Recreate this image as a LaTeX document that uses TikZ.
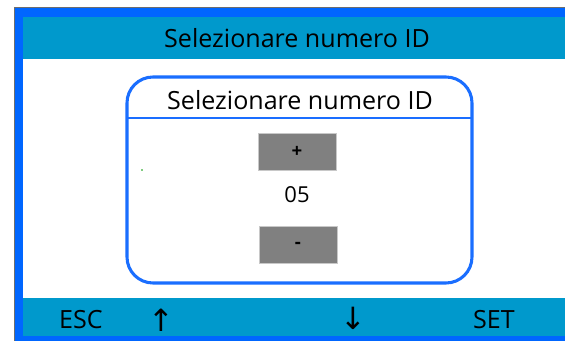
\documentclass[tikz,border=0pt]{standalone}
\usepackage{fontspec}
\setmainfont{Open Sans}
\newfontfamily\symfont{DejaVu Sans}
\definecolor{barteal}{RGB}{0,153,204}
\definecolor{frameblue}{RGB}{0,102,255}
\definecolor{dlgblue}{RGB}{26,110,255}
\definecolor{btngray}{RGB}{128,128,128}
\definecolor{btnedge}{RGB}{200,200,200}
\definecolor{edgegray}{RGB}{110,110,110}
\tikzset{
  bartext/.style={font=\fontsize{18.8}{22}\selectfont, text=black, inner sep=0pt},
  arrowtext/.style={font=\symfont\fontsize{23}{26}\selectfont, text=black, inner sep=0pt},
  btn/.style={fill=btngray, draw=btnedge, line width=0.6pt, minimum width=58.5pt, minimum height=28pt, inner sep=0pt, font=\bfseries\fontsize{14}{16}\selectfont},
}
\begin{document}
\begin{tikzpicture}[x=0.75pt,y=-0.75pt]
\useasboundingbox (0,0) rectangle (565,341);
\fill[white] (0,0) rectangle (565,341);
% outer frame
\fill[edgegray] (13.5,7) rectangle (565,8.2);
\fill[edgegray] (13.5,7) rectangle (14.7,341);
\fill[frameblue] (14.7,8.2) rectangle (565,341);
% top bar
\fill[barteal] (23,17) rectangle (565,59);
\node[bartext] (title) at (297,38) {Selezionare numero ID};
% white body
\fill[white] (23,59) rectangle (565,298);
% bottom bar
\fill[barteal] (23,298) rectangle (565,336.5);
\node[bartext] (esc) at (81,319.5) {ESC};
\node[arrowtext] (up) at (161,320) {↑};
\node[arrowtext] (down) at (353,318) {↓};
\node[bartext] (set) at (494,319.5) {SET};
% dialog
\draw[dlgblue, line width=2.3pt, rounded corners=19.5pt] (127,77) rectangle (472,283);
\draw[dlgblue, line width=1.4pt] (127,118) -- (472,118);
\node[bartext] (dtitle) at (300,100.5) {Selezionare numero ID};
\node[btn] (plus) at (297,152) {+};
\node[bartext, font=\fontsize{16.5}{19}\selectfont] (val) at (297,195) {05};
\node[btn] (minus) at (298,245) {-};
% stray dot
\fill[green!60!black] (142,170) circle (0.8);
\end{tikzpicture}
\end{document}
